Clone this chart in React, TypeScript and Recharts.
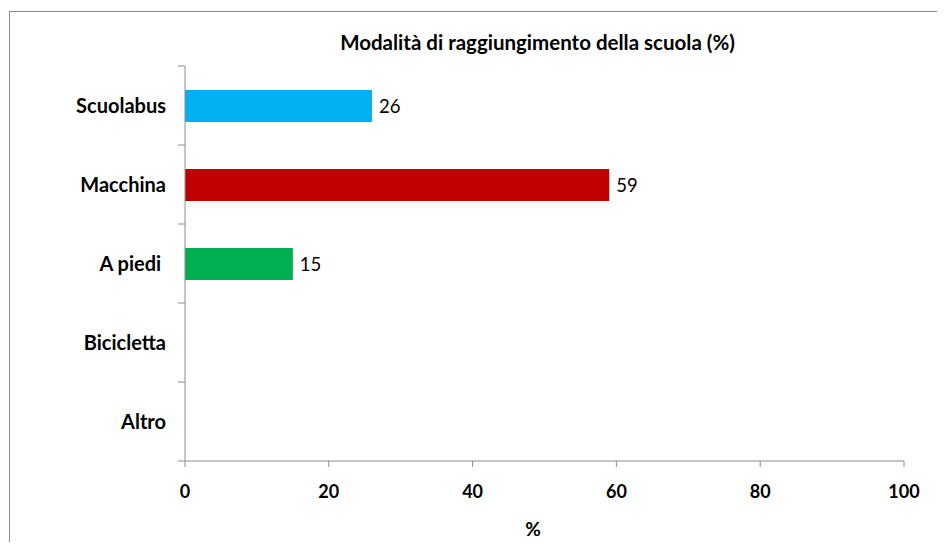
import React from "react";
import { BarChart, Bar, XAxis, YAxis, Cell, LabelList } from "recharts";

const categories = ["Scuolabus", "Macchina", "A piedi ", "Bicicletta", "Altro"];
const values: (number | null)[] = [26, 59, 15, null, null];
const colors = ["#00B0F0", "#C00000", "#00B050", "#808080", "#808080"];
const xTicks = [0, 20, 40, 60, 80, 100];
const title = "Modalità di raggiungimento della scuola (%)";
const xLabel = "%";

const data = categories.map((c, i) => ({ name: c, value: values[i] }));

const FONT = "Lato, 'Open Sans', sans-serif";
const AXIS = "#8c8c8c";

const YTick = (props: any) => {
  const { x, y, payload, index, visibleTicksCount } = props;
  const off = payload && payload.offset ? payload.offset : 0;
  const isLast = index === visibleTicksCount - 1;
  return (
    <g>
      <line x1={x - 7} x2={x} y1={y - off} y2={y - off} stroke={AXIS} strokeWidth={1} />
      {isLast && <line x1={x - 7} x2={x} y1={y + off} y2={y + off} stroke={AXIS} strokeWidth={1} />}
      <text x={x - 19} y={y} dy="0.35em" textAnchor="end" fontFamily={FONT} fontWeight={700} fontSize={20} fill="#000" style={{ whiteSpace: "pre" }}>
        {payload.value}
      </text>
    </g>
  );
};

export default function App() {
  return (
    <div style={{ margin: -8, position: "relative", width: 945, height: 550, overflow: "hidden", background: "#fff" }}>
      <div style={{ position: "absolute", left: 9, top: 11, width: 960, height: 560, border: "1px solid #8a8a8a", boxSizing: "border-box" }} />
      <div style={{ position: "absolute", left: 0, top: 30, width: 1075, textAlign: "center", fontFamily: FONT, fontWeight: 700, fontSize: 20.5, color: "#000" }}>
        {title}
      </div>
      <div style={{ position: "absolute", left: 0, top: 517, width: 1066, textAlign: "center", fontFamily: FONT, fontWeight: 700, fontSize: 19, color: "#000" }}>
        {xLabel}
      </div>
      <div style={{ position: "absolute", left: 0, top: 0 }}>
        <BarChart width={945} height={550} data={data} layout="vertical" margin={{ top: 66, right: 41, bottom: 29, left: 0 }}>
          <XAxis
            type="number"
            domain={[0, 100]}
            ticks={xTicks}
            tickSize={6}
            tickMargin={18}
            stroke={AXIS}
            tick={{ fill: "#000", fontFamily: FONT, fontWeight: 700, fontSize: 18 }}
            height={60}
            allowDataOverflow
          />
          <YAxis
            type="category"
            dataKey="name"
            width={185}
            tickSize={0}
            tickMargin={0}
            tickLine={false}
            stroke={AXIS}
            tick={<YTick />}
            interval={0}
          />
          <Bar dataKey="value" barSize={32} isAnimationActive={false}>
            {data.map((d, i) => (
              <Cell key={d.name} fill={colors[i]} />
            ))}
            <LabelList dataKey="value" position="right" offset={7} fill="#000" fontFamily={FONT} fontSize={18.5} />
          </Bar>
        </BarChart>
      </div>
    </div>
  );
}
